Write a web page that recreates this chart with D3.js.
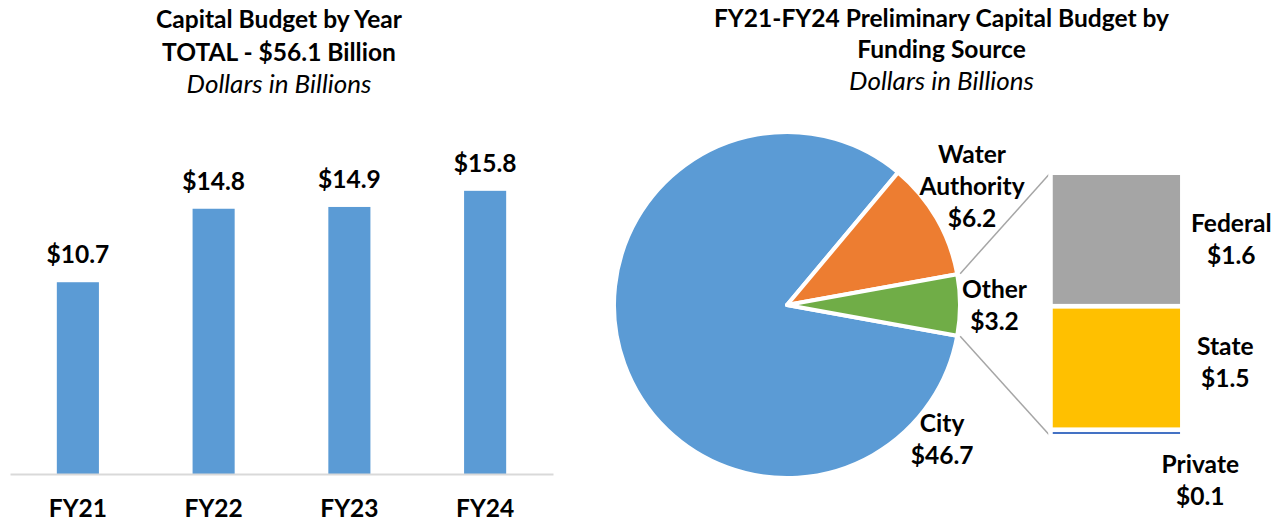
<!DOCTYPE html>
<html><head><meta charset="utf-8">
<script src="https://cdn.jsdelivr.net/npm/d3@7"></script>
<style>html,body{margin:0;padding:0;background:#fff;} svg{display:block;}</style>
</head><body><div id="chart"></div>
<script>
// ---------- data ----------
const years = ["FY21", "FY22", "FY23", "FY24"];
const yearValues = [10.7, 14.8, 14.9, 15.8];
const sources = ["City", "Water Authority", "Other"];
const sourceValues = [46.7, 6.2, 3.2];
const otherParts = ["Federal", "State", "Private"];
const otherValues = [1.62, 1.50, 0.08];
const leftTitle = ["Capital Budget by Year", "TOTAL - $56.1 Billion", "Dollars in Billions"];
const rightTitle = ["FY21-FY24 Preliminary Capital Budget by", "Funding Source", "Dollars in Billions"];
const sourceLabelLines = [["City"], ["Water", "Authority"], ["Other"]];

// ---------- setup ----------
const W = 1285, H = 523;
const FONT = "Lato, 'Open Sans', sans-serif";
const svg = d3.select("#chart").append("svg").attr("width", W).attr("height", H);
const fmt = v => "$" + d3.format(".1f")(v);

function measure(txt, weight, style) {
  const t = svg.append("text").attr("font-family", FONT).attr("font-weight", weight)
    .attr("font-style", style).attr("font-size", 100).text(txt);
  const w = t.node().getComputedTextLength(); t.remove(); return w;
}
const fsB = 100 * 246 / measure("Capital Budget by Year", 700, "normal");
const fsI = 100 * 185 / measure("Dollars in Billions", 400, "italic");

function title(lines, cx, baselines) {
  lines.forEach((l, i) => {
    svg.append("text").attr("x", cx).attr("y", baselines[i]).attr("text-anchor", "middle")
      .attr("font-family", FONT).attr("font-size", i === 2 ? fsI : fsB)
      .attr("font-weight", i === 2 ? 400 : 700).attr("font-style", i === 2 ? "italic" : "normal")
      .attr("fill", "#000").text(l);
  });
}
title(leftTitle, 279, [28, 61, 93]);
title(rightTitle, 941.5, [27, 58, 90]);

// ---------- bar chart ----------
const x = d3.scaleBand().domain(years).range([10, 553]).paddingInner(0.69).paddingOuter(0.345);
const y = d3.scaleLinear().domain([0, 18]).range([474, 151.4]);
const barData = years.map((k, i) => ({k, v: yearValues[i]}));

svg.append("g").selectAll("rect").data(barData).join("rect")
  .attr("x", d => x(d.k)).attr("width", x.bandwidth())
  .attr("y", d => y(d.v)).attr("height", d => y(0) - y(d.v))
  .attr("fill", "#5B9BD5");

const ax = svg.append("g").attr("transform", `translate(0,${y(0)})`)
  .call(d3.axisBottom(x).tickSize(0).tickSizeOuter(0));
ax.select(".domain").attr("stroke", "#d9d9d9").attr("stroke-width", 2.2);
ax.selectAll("text").attr("y", 43).attr("dy", null)
  .attr("font-family", FONT).attr("font-size", fsB).attr("font-weight", 700).attr("fill", "#000");

svg.append("g").selectAll("text").data(barData).join("text")
  .attr("x", d => x(d.k) + x.bandwidth() / 2).attr("y", d => y(d.v) - 19)
  .attr("text-anchor", "middle").attr("font-family", FONT).attr("font-size", fsB)
  .attr("font-weight", 700).attr("fill", "#000").text(d => fmt(d.v));

// ---------- pie ----------
const cx = 787, cy = 305, R = 173;
const pieColors = ["#5B9BD5", "#ED7D31", "#70AD47"];
const total = d3.sum(sourceValues);
const start = Math.PI / 2 + (sourceValues[2] / total) * Math.PI;
const pie = d3.pie().sort(null).startAngle(start).endAngle(start + 2 * Math.PI);
const arcs = pie(sourceValues);
const arc = d3.arc().innerRadius(0).outerRadius(R);
const pg = svg.append("g").attr("transform", `translate(${cx},${cy})`);
pg.selectAll("path").data(arcs).join("path")
  .attr("d", arc).attr("fill", (d, i) => pieColors[i])
  .attr("stroke", "#fff").attr("stroke-width", 4).attr("stroke-linejoin", "round");

const polar = (a, r) => [cx + r * Math.sin(a), cy - r * Math.cos(a)];

// pie labels: anchor in polar coords (deg clockwise from 12 o'clock, radius) for the first baseline
const pieLabelPos = [{a: 129.3, r: 200.4}, {a: 52.5, r: 233.2}, {a: 88.1, r: 207.6}];
sources.forEach((s, i) => {
  const [lx, ly] = polar(pieLabelPos[i].a * Math.PI / 180, pieLabelPos[i].r);
  const lines = sourceLabelLines[i].concat([fmt(sourceValues[i])]);
  lines.forEach((l, j) => {
    svg.append("text").attr("x", lx).attr("y", ly + j * 32).attr("text-anchor", "middle")
      .attr("font-family", FONT).attr("font-size", fsB).attr("font-weight", 700)
      .attr("fill", "#000").text(l);
  });
});

// ---------- stacked "other" bar ----------
const otherTotal = d3.sum(otherValues);
const ys = d3.scaleLinear().domain([0, otherTotal]).range([436.25, 172.75]);
const sx0 = 1050.5, sw = 131.8;
const stackColors = ["#A5A5A5", "#FFC000", "#4472C4"];
let acc = 0;
const segs = otherParts.map((p, i) => ({p, v: otherValues[i], i})).reverse().map(d => {
  const s = {...d, y0: acc, y1: acc + d.v}; acc += d.v; return s;
});

// connectors
const oa = arcs[2];
const [p1x, p1y] = polar(oa.startAngle, R + 3);
const [p2x, p2y] = polar(oa.endAngle, R + 3);
svg.append("line").attr("x1", p1x).attr("y1", p1y).attr("x2", sx0).attr("y2", ys(otherTotal))
  .attr("stroke", "#a6a6a6").attr("stroke-width", 1.5);
svg.append("line").attr("x1", p2x).attr("y1", p2y).attr("x2", sx0).attr("y2", ys(0))
  .attr("stroke", "#a6a6a6").attr("stroke-width", 1.5);

svg.append("g").selectAll("rect").data(segs).join("rect")
  .attr("x", sx0).attr("width", sw)
  .attr("y", d => ys(d.y1)).attr("height", d => ys(d.y0) - ys(d.y1))
  .attr("fill", d => stackColors[d.i]).attr("stroke", "#fff").attr("stroke-width", 4.5);

const stackLabelPos = [{dx: 49, dy: -7}, {dx: 43, dy: -13}, {dx: 18, dy: 40}];
segs.forEach(d => {
  const lp = stackLabelPos[d.i];
  const lx = sx0 + sw + lp.dx;
  const ly = (ys(d.y0) + ys(d.y1)) / 2 + lp.dy;
  [d.p, fmt(d.v)].forEach((l, j) => {
    svg.append("text").attr("x", lx).attr("y", ly + j * 32).attr("text-anchor", "middle")
      .attr("font-family", FONT).attr("font-size", fsB).attr("font-weight", 700)
      .attr("fill", "#000").text(l);
  });
});
</script>
</body></html>
